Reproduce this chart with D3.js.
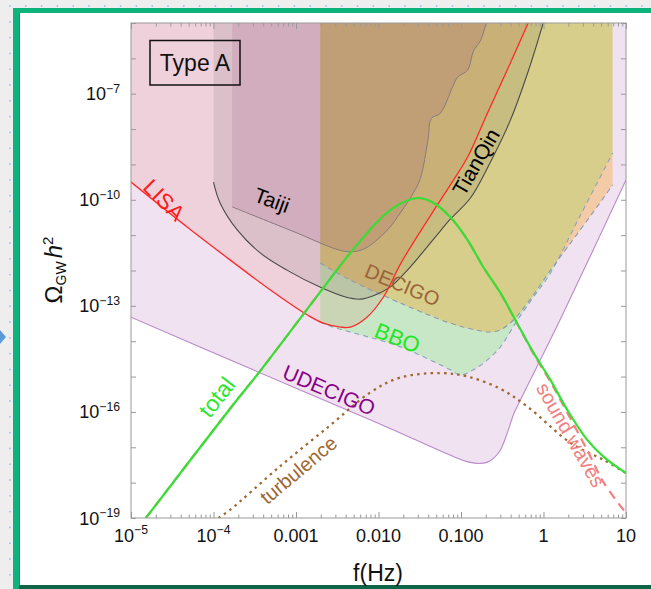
<!DOCTYPE html>
<html>
<head>
<meta charset="utf-8">
<script src="https://cdn.jsdelivr.net/npm/d3@7"></script>
<style>
html, body { margin: 0; padding: 0; background: #eeeeee; overflow: hidden; }
svg { display: block; }
text { font-family: "Liberation Sans", Arial, Helvetica, sans-serif; }
</style>
</head>
<body>
<svg id="chart" width="651" height="589"></svg>
<script>
// ---- Detector sensitivity regions: log10(f / Hz) and log10(Omega_GW h^2) along the lower edge ----
const udecigoLogF     = [-5.0, -3.52, -2.01, -1.05, -0.9, -0.78, -0.68, -0.6, -0.52, -0.44, -0.36, -0.28, 0.2, 1.0];
const udecigoLogOmega = [-13.32, -14.81, -16.31, -17.3, -17.42, -17.46, -17.42, -17.3, -17.07, -16.6, -16.05, -15.66, -13.4, -9.44];

const lisaLogF     = [-5.0, -4.32, -3.8, -3.31, -2.86, -2.67, -2.46, -2.34, -2.14, -1.94, -1.735, -1.529, -1.335, -1.129, -0.92, -0.68, -0.44, -0.18];
const lisaLogOmega = [-9.5, -10.77, -11.7, -12.55, -13.26, -13.49, -13.6, -13.6, -13.32, -12.75, -11.82, -11.03, -10.32, -9.58, -8.79, -7.55, -6.33, -4.97];

const tianqinLogF     = [-4.0, -3.92, -3.71, -3.43, -3.11, -2.71, -2.4, -2.22, -2.04, -1.86, -1.67, -1.49, -1.31, -1.13, -0.886, -0.643, -0.40, -0.18, 0.0];
const tianqinLogOmega = [-9.5, -10.09, -10.86, -11.51, -11.99, -12.47, -12.75, -12.81, -12.69, -12.47, -12.04, -11.56, -11.05, -10.55, -9.95, -8.93, -7.74, -6.33, -4.97];

const taijiLogF     = [-3.774, -3.07, -2.427, -2.257, -2.136, -1.893, -1.735, -1.578, -1.493, -1.40, -1.36, -1.25, -1.10, -1.04, -0.92, -0.85, -0.76, -0.7, -0.68];
const taijiLogOmega = [-10.2, -10.86, -11.45, -11.45, -11.34, -10.86, -10.37, -9.81, -9.40, -8.3, -7.7, -7.55, -6.8, -6.53, -6.33, -5.8, -5.48, -5.06, -4.97];

const decigoLogF     = [-2.706, -2.342, -1.735, -1.129, -0.825, -0.643, -0.522, -0.364, -0.194, 0.085, 0.291, 0.692, 0.837];
const decigoLogOmega = [-11.79, -12.27, -12.92, -13.49, -13.68, -13.74, -13.68, -13.4, -12.92, -11.99, -11.34, -10.06, -9.58];

const bboLogF     = [-2.706, -2.549, -1.735, -1.129, -1.007, -0.85, -0.68, -0.522, -0.316, -0.121, 0.085, 0.449, 0.837];
const bboLogOmega = [-13.46, -13.6, -14.16, -14.81, -14.96, -14.81, -14.53, -14.16, -13.4, -12.75, -12.07, -10.43, -8.68];

// ---- Phase-transition spectra (Type A) ----
const totalLogF     = [-4.82, -3.76, -3.43, -2.71, -2.34, -1.94, -1.74, -1.53, -1.33, -1.13, -0.92, -0.73, -0.52, -0.32, -0.12, 0.085, 0.29, 0.53, 0.73, 1.0];
const totalLogOmega = [-19.0, -15.79, -14.83, -12.62, -11.5, -10.45, -10.12, -9.95, -10.09, -10.49, -11.14, -11.9, -12.64, -13.49, -14.33, -15.1, -15.95, -16.79, -17.27, -17.73];

const soundLogF     = [-4.82, -3.76, -3.43, -2.71, -2.34, -1.94, -1.74, -1.53, -1.33, -1.13, -0.92, -0.73, -0.52, -0.32, -0.12, 0.085, 0.29, 0.53, 0.73, 1.0];
const soundLogOmega = [-19.0, -15.79, -14.83, -12.62, -11.5, -10.45, -10.12, -9.95, -10.09, -10.49, -11.14, -11.9, -12.65, -13.5, -14.36, -15.15, -16.03, -17.08, -18.0, -18.86];

const turbLogF     = [-3.94, -3.8, -3.2, -2.58, -2.1, -1.74, -1.25, -0.92, -0.52, -0.19, 0.33, 0.73, 1.0];
const turbLogOmega = [-19.0, -18.77, -17.55, -16.37, -15.45, -15.03, -14.9, -15.0, -15.35, -15.86, -16.88, -17.36, -17.73];

// ---- Axis tick labels ----
const xTickValues = [1e-5, 1e-4, 1e-3, 1e-2, 1e-1, 1, 10];
const xTickLabels = [["10", "\u22125"], ["10", "\u22124"], ["0.001"], ["0.010"], ["0.100"], ["1"], ["10"]];
const yTickValues = [1e-19, 1e-16, 1e-13, 1e-10, 1e-7];
const yTickLabels = [["10", "\u221219"], ["10", "\u221216"], ["10", "\u221213"], ["10", "\u221210"], ["10", "\u22127"]];

const svg = d3.select("#chart");
const W = 651, H = 589;

// ---- page backdrop: dotted canvas, green-framed panel ----
const dots = svg.append("g");
for (let yy = 6; yy < H; yy += 15.8) {
  for (let xx = 10; xx < W; xx += 15.8) {
    dots.append("circle").attr("cx", xx).attr("cy", yy).attr("r", 0.9).attr("fill", "#9cc0ee");
  }
}
svg.append("path").attr("d", "M0,330 L6,337 L0,344 Z").attr("fill", "#5b9bd8");
svg.append("rect").attr("x", 13).attr("y", 8).attr("width", W).attr("height", H).attr("fill", "#0cb37a");
svg.append("rect").attr("x", 19).attr("y", 13).attr("width", W).attr("height", H).attr("fill", "#0a9c6a");
svg.append("rect").attr("x", 20).attr("y", 13).attr("width", W).attr("height", 572).attr("fill", "#ffffff");
svg.append("rect").attr("x", 19).attr("y", 585).attr("width", W).attr("height", 6).attr("fill", "#0e6446");

// ---- scales ----
const x = d3.scaleLog().domain([1e-5, 10]).range([131, 626]);
const y = d3.scaleLog().domain([1e-19, 1e-5]).range([518, 23]);
const px = d => x(Math.pow(10, d[0]));
const py = d => y(Math.pow(10, d[1]));
const zip = (a, b) => a.map((v, i) => [v, b[i]]);

const defs = svg.append("defs");
defs.append("clipPath").attr("id", "plotClip")
  .append("rect").attr("x", 131).attr("y", 23).attr("width", 495).attr("height", 495);

const plot = svg.append("g").attr("clip-path", "url(#plotClip)");

const smooth = d3.curveCatmullRom.alpha(0.5);
const areaAbove = d3.area().x(px).y0(y(1e-5)).y1(py).curve(smooth);
const line = d3.line().x(px).y(py).curve(smooth);

const regions = [
  { data: zip(udecigoLogF, udecigoLogOmega), fill: "rgb(180,110,180)", op: 0.2 },
  { data: zip(bboLogF, bboLogOmega),         fill: "rgb(0,255,0)",     op: 0.17 },
  { data: zip(decigoLogF, decigoLogOmega),   fill: "rgb(255,150,0)",   op: 0.3 },
  { data: zip(lisaLogF, lisaLogOmega),       fill: "rgb(240,60,40)",   op: 0.1 },
  { data: zip(tianqinLogF, tianqinLogOmega), fill: "rgb(0,0,0)",       op: 0.08 },
  { data: zip(taijiLogF, taijiLogOmega),     fill: "rgb(150,60,120)",  op: 0.14 }
];
regions.forEach(r => {
  plot.append("path").datum(r.data).attr("d", areaAbove)
    .attr("fill", r.fill).attr("fill-opacity", r.op).attr("stroke", "none");
});

// region boundaries
function edge(f, o, color, w, dash) {
  const p = plot.append("path").datum(zip(f, o)).attr("d", line)
    .attr("fill", "none").attr("stroke", color).attr("stroke-width", w);
  if (dash) p.attr("stroke-dasharray", dash);
}
edge(udecigoLogF, udecigoLogOmega, "#b98ac9", 1.1);
edge(bboLogF, bboLogOmega, "#8ea2bb", 1.1, "5,4");
edge(decigoLogF, decigoLogOmega, "#8d9aae", 1.1, "5,4");
edge(taijiLogF, taijiLogOmega, "#8a7a7e", 1);
edge(tianqinLogF, tianqinLogOmega, "#4a4a4a", 1.1);
edge(lisaLogF, lisaLogOmega, "#ff2a2a", 1.3);

// spectra
edge(turbLogF, turbLogOmega, "#a0672f", 2.3, "2.5,4.2");
edge(soundLogF, soundLogOmega, "#f57f7f", 2.2, "9,6");
edge(totalLogF, totalLogOmega, "#33e033", 2.2);

// ---- labels on the plot ----
function label(txt, lf, lo, angle, color, size) {
  const cx = x(Math.pow(10, lf)), cy = y(Math.pow(10, lo));
  svg.append("text").attr("transform", `translate(${cx},${cy}) rotate(${angle})`)
    .attr("text-anchor", "middle").attr("dominant-baseline", "central")
    .attr("fill", color).attr("font-size", size).text(txt);
}
label("LISA", -4.60, -10.01, 45, "#ff1a1a", 22);
label("Taiji", -3.29, -10.01, 20, "#000000", 21);
label("TianQin", -0.82, -8.93, -60, "#000000", 21);
label("DECIGO", -1.71, -12.41, 23, "#9a6436", 20);
label("BBO", -1.77, -13.91, 22, "#22e622", 22);
label("UDECIGO", -2.60, -15.38, 23, "#880088", 21);
label("total", -3.96, -15.58, -52, "#2ee62e", 23);
label("turbulence", -2.97, -17.64, -40, "#a0672f", 20);
label("sound waves", 0.33, -16.65, 60, "#f28080", 20);

// "Type A" box
svg.append("rect").attr("x", 150).attr("y", 40.5).attr("width", 90).attr("height", 44.5)
  .attr("fill", "none").attr("stroke", "#111").attr("stroke-width", 1.5);
svg.append("text").attr("x", 195).attr("y", 63).attr("text-anchor", "middle")
  .attr("dominant-baseline", "central").attr("font-size", 23).attr("fill", "#111").text("Type A");

// ---- frame and axes ----
const axisColor = "#999";
svg.append("rect").attr("x", 131).attr("y", 23).attr("width", 495).attr("height", 495)
  .attr("fill", "none").attr("stroke", axisColor).attr("stroke-width", 1);

const allX = [];
for (let k = -5; k <= 0; k++) for (let m = 1; m <= 9; m++) allX.push(m * Math.pow(10, k));
allX.push(10);
const isMajor = v => Math.abs(Math.log10(v) - Math.round(Math.log10(v))) < 1e-9;

function styleAxis(g, sign) {
  g.select(".domain").remove();
  g.selectAll(".tick line").attr("stroke", axisColor).attr("stroke-width", 1)
    .attr("y2", d => isMajor(d) ? sign * 6 : sign * 3.5);
}
const xb = svg.append("g").attr("transform", "translate(0,518)")
  .call(d3.axisBottom(x).tickValues(allX).tickSize(-6).tickFormat(""));
styleAxis(xb, -1);
const xt = svg.append("g").attr("transform", "translate(0,23)")
  .call(d3.axisTop(x).tickValues(allX).tickSize(-6).tickFormat(""));
styleAxis(xt, 1);

const allY = [];
for (let k = -19; k <= -5; k++) allY.push(Math.pow(10, k));
const yl = svg.append("g").attr("transform", "translate(131,0)")
  .call(d3.axisLeft(y).tickValues(allY).tickSize(-5).tickFormat(""));
yl.select(".domain").remove();
yl.selectAll(".tick line").attr("stroke", axisColor);
const yr = svg.append("g").attr("transform", "translate(626,0)")
  .call(d3.axisRight(y).tickValues(allY).tickSize(-5).tickFormat(""));
yr.select(".domain").remove();
yr.selectAll(".tick line").attr("stroke", axisColor);

function tickText(sel, parts, fs) {
  sel.append("tspan").text(parts[0]);
  if (parts[1]) sel.append("tspan").attr("font-size", fs * 0.68).attr("dy", -fs * 0.42).text(parts[1]);
}
xTickValues.forEach((v, i) => {
  const t = svg.append("text").attr("x", x(v)).attr("y", 542).attr("text-anchor", "middle")
    .attr("font-size", 18).attr("fill", "#111");
  tickText(t, xTickLabels[i], 18);
});
yTickValues.forEach((v, i) => {
  const t = svg.append("text").attr("x", 120).attr("y", y(v) + 6.5).attr("text-anchor", "end")
    .attr("font-size", 18).attr("fill", "#111");
  tickText(t, yTickLabels[i], 18);
});

// axis titles
svg.append("text").attr("x", 378).attr("y", 581).attr("text-anchor", "middle")
  .attr("font-size", 23).attr("fill", "#111").text("f(Hz)");
const yt = svg.append("text").attr("transform", "translate(62,270) rotate(-90)")
  .attr("text-anchor", "middle").attr("font-size", 24).attr("fill", "#111");
yt.append("tspan").text("\u03A9");
yt.append("tspan").attr("font-size", 14).attr("dy", 4).text("GW");
yt.append("tspan").attr("dy", -4).attr("dx", 3).attr("font-style", "italic").text("h");
yt.append("tspan").attr("font-size", 15).attr("dy", -9).text("2");
</script>
</body>
</html>
